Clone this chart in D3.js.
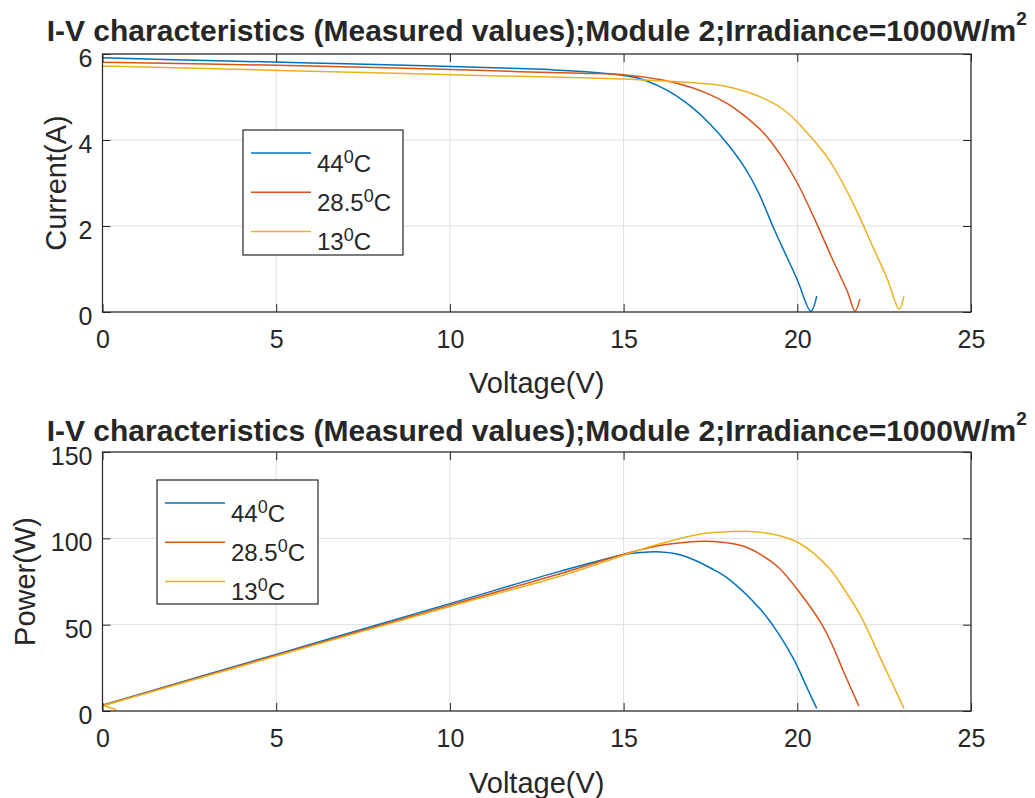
<!DOCTYPE html>
<html>
<head>
<meta charset="utf-8">
<script src="https://cdn.jsdelivr.net/npm/d3@7"></script>
<style>
  body { margin: 0; background: #fff; }
  svg { display: block; }
  text { font-family: "Liberation Sans", Arial, sans-serif; fill: #262626; }
</style>
</head>
<body>
<svg id="chart" width="1035" height="798"></svg>
<script>
// Module temperatures (°C) and MATLAB-style line colours
const temps = ["44", "28.5", "13"];
const colors = ["#0072BD", "#D95319", "#EDB120"];

// Tick values
const voltageTicks = [0, 5, 10, 15, 20, 25];
const currentTicks = [0, 2, 4, 6];
const powerTicks = [0, 50, 100, 150];

// Measured I-V curves: voltage (V) and current (A)
const ivVoltage44 = [0, 3, 6, 9, 12, 13, 14, 15, 15.5, 16, 16.5, 17, 17.5, 18, 18.5, 18.87, 19.33, 19.7, 20.0, 20.39, 20.56];
const ivCurrent44 = [5.91, 5.85, 5.79, 5.73, 5.66, 5.63, 5.58, 5.50, 5.42, 5.26, 5.04, 4.74, 4.36, 3.90, 3.34, 2.80, 1.93, 1.28, 0.75, 0.02, 0.37];

const ivVoltage285 = [0, 3, 6, 9, 12, 13.77, 15, 16.16, 17.0, 17.5, 18.0, 18.5, 19.0, 19.5, 20.0, 20.5, 21.0, 21.45, 21.66, 21.8];
const ivCurrent285 = [5.81, 5.77, 5.72, 5.66, 5.59, 5.55, 5.52, 5.39, 5.21, 5.05, 4.84, 4.55, 4.19, 3.67, 3.00, 2.16, 1.25, 0.46, 0.02, 0.30];

const ivVoltage13 = [0, 3, 6, 9, 12, 13.77, 15, 16, 17, 17.6, 18, 18.58, 19.0, 19.53, 20.0, 20.19, 20.5, 20.88, 21.26, 21.74, 22.2, 22.6, 22.93, 23.07];
const ivCurrent13 = [5.72, 5.66, 5.60, 5.54, 5.48, 5.45, 5.42, 5.38, 5.33, 5.29, 5.24, 5.11, 4.98, 4.75, 4.42, 4.25, 3.97, 3.58, 3.07, 2.30, 1.47, 0.75, 0.07, 0.37];

// Measured P-V curves: voltage (V) and power (W)
const pvVoltage44 = [0, 5, 10, 13.19, 15.03, 15.5, 16.07, 16.5, 17.02, 17.5, 18.0, 18.95, 19.44, 19.9, 20.3, 20.56];
const pvPower44 = [3.4, 32.8, 62.2, 81.0, 90.6, 91.8, 92.1, 91.1, 87.6, 82.8, 76.8, 58.6, 45.4, 29.9, 12.6, 1.5];

const pvVoltage285 = [0, 5, 10, 13.19, 15.0, 16.07, 16.8, 17.31, 17.9, 18.46, 18.95, 19.44, 20.05, 20.68, 21.0, 21.34, 21.77];
const pvPower285 = [3.2, 32.3, 61.2, 79.6, 90.8, 96.0, 97.8, 98.3, 97.6, 95.4, 90.6, 83.5, 69.1, 51.0, 38.5, 22.4, 3.0];

const pvVoltage13 = [0.4, 0.03, 5, 10, 13.19, 15.0, 16.07, 17.31, 18.0, 18.66, 19.43, 20.05, 20.88, 21.35, 21.83, 22.41, 23.07];
const pvPower13 = [0.7, 3.2, 31.8, 60.5, 78.2, 90.2, 97.0, 102.8, 103.8, 104.0, 101.8, 97.3, 83.5, 70.5, 54.8, 29.9, 1.5];

const ivSeries = [
  { v: ivVoltage44, y: ivCurrent44 },
  { v: ivVoltage285, y: ivCurrent285 },
  { v: ivVoltage13, y: ivCurrent13 }
];
const pvSeries = [
  { v: pvVoltage44, y: pvPower44 },
  { v: pvVoltage285, y: pvPower285 },
  { v: pvVoltage13, y: pvPower13 }
];

const titleText = "I-V characteristics (Measured values);Module 2;Irradiance=1000W/m";

const svg = d3.select("#chart");
const left = 102.5, right = 971;
const x = d3.scaleLinear().domain([0, 25]).range([left, right]);
const axisColor = "#262626";
const gridColor = "#dfdfdf";

// Split a trace into runs along which voltage moves in one direction,
// so each run is drawn as its own smooth piece.
function directionRuns(pts) {
  const runs = [];
  let run = [pts[0]], dir = 0;
  for (let k = 1; k < pts.length; k++) {
    const d = Math.sign(pts[k][0] - pts[k - 1][0]);
    if (dir !== 0 && d !== dir) {
      runs.push(run);
      run = [pts[k - 1]];
    }
    dir = d;
    run.push(pts[k]);
  }
  runs.push(run);
  return runs;
}

function drawPanel(cfg) {
  const y = d3.scaleLinear().domain(cfg.yDomain).range([cfg.bottom, cfg.top]);
  const g = svg.append("g");

  // grid
  g.append("g").selectAll("line").data(voltageTicks).join("line")
    .attr("x1", d => x(d)).attr("x2", d => x(d))
    .attr("y1", cfg.top).attr("y2", cfg.bottom)
    .attr("stroke", gridColor).attr("stroke-width", 1);
  g.append("g").selectAll("line").data(cfg.yTicks).join("line")
    .attr("x1", left).attr("x2", right)
    .attr("y1", d => y(d)).attr("y2", d => y(d))
    .attr("stroke", gridColor).attr("stroke-width", 1);

  // curves
  const line = d3.line()
    .x(d => x(d[0])).y(d => y(d[1]))
    .curve(d3.curveCatmullRom.alpha(0.5));
  cfg.series.forEach((s, i) => {
    const pts = s.v.map((v, k) => [v, s.y[k]]);
    const d = directionRuns(pts).map(r => line(r)).join("");
    g.append("path")
      .attr("d", d)
      .attr("fill", "none")
      .attr("stroke", colors[i])
      .attr("stroke-width", 1.5)
      .attr("stroke-linejoin", "round");
  });

  // axes: ticks point inward on all four sides
  const tl = 8;
  const fmt = d3.format("~g");
  const xb = d3.axisBottom(x).tickValues(voltageTicks).tickFormat(fmt).tickSizeInner(-tl).tickSizeOuter(0).tickPadding(23);
  const xt = d3.axisTop(x).tickValues(voltageTicks).tickSizeInner(-tl).tickSizeOuter(0).tickFormat("");
  const yl = d3.axisLeft(y).tickValues(cfg.yTicks).tickFormat(fmt).tickSizeInner(-tl).tickSizeOuter(0).tickPadding(10);
  const yr = d3.axisRight(y).tickValues(cfg.yTicks).tickSizeInner(-tl).tickSizeOuter(0).tickFormat("");

  const axes = [
    g.append("g").attr("transform", `translate(0,${cfg.bottom})`).call(xb),
    g.append("g").attr("transform", `translate(0,${cfg.top})`).call(xt),
    g.append("g").attr("transform", `translate(${left},0)`).call(yl),
    g.append("g").attr("transform", `translate(${right},0)`).call(yr)
  ];
  axes.forEach(a => {
    a.select(".domain").remove();
    a.selectAll(".tick line").attr("stroke", axisColor).attr("stroke-width", 1);
    a.selectAll(".tick text").attr("font-size", 25).attr("fill", axisColor)
      .style("font-family", '"Liberation Sans", Arial, sans-serif');
  });
  axes[0].selectAll(".tick text").attr("dy", "0.5em");
  axes[2].selectAll(".tick text").attr("dy", "0.5em");

  // box
  g.append("rect")
    .attr("x", left).attr("y", cfg.top)
    .attr("width", right - left).attr("height", cfg.bottom - cfg.top)
    .attr("fill", "none").attr("stroke", axisColor).attr("stroke-width", 1.2);

  // axis labels
  g.append("text")
    .attr("x", (left + right) / 2).attr("y", cfg.xLabelY)
    .attr("text-anchor", "middle").attr("font-size", 29)
    .text("Voltage(V)");
  g.append("text")
    .attr("transform", `translate(${cfg.yLabelX},${(cfg.top + cfg.bottom) / 2}) rotate(-90)`)
    .attr("text-anchor", "middle").attr("font-size", 29)
    .text(cfg.yLabel);

  // title with superscript
  const t = g.append("text")
    .attr("x", (left + right) / 2).attr("y", cfg.titleY)
    .attr("text-anchor", "middle").attr("font-size", 30).attr("font-weight", "bold")
    .attr("fill", "#000");
  t.append("tspan").text(titleText);
  t.append("tspan").attr("dy", -16).attr("font-size", 19).text("2");

  // legend
  const L = cfg.legend;
  const lg = g.append("g").attr("transform", `translate(${L.x},${L.y})`);
  lg.append("rect").attr("width", L.w).attr("height", L.h)
    .attr("fill", "#fff").attr("stroke", axisColor).attr("stroke-width", 1.2);
  temps.forEach((tp, i) => {
    const ly = 23 + i * 39.2;
    lg.append("line").attr("x1", 8).attr("x2", 68).attr("y1", ly).attr("y2", ly)
      .attr("stroke", colors[i]).attr("stroke-width", 1.5);
    const tx = lg.append("text").attr("x", 74).attr("y", ly + 19).attr("font-size", 24).attr("fill", "#000");
    tx.append("tspan").text(tp);
    tx.append("tspan").attr("dy", -9).attr("font-size", 18).text("0");
    tx.append("tspan").attr("dy", 9).attr("font-size", 24).text("C");
  });
}

drawPanel({
  top: 54, bottom: 312, yDomain: [0, 6], yTicks: currentTicks,
  yLabel: "Current(A)", yLabelX: 66, xLabelY: 393, titleY: 41,
  series: ivSeries,
  legend: { x: 243, y: 130, w: 160, h: 125 }
});

drawPanel({
  top: 452, bottom: 711, yDomain: [0, 150], yTicks: powerTicks,
  yLabel: "Power(W)", yLabelX: 35, xLabelY: 793, titleY: 441,
  series: pvSeries,
  legend: { x: 157, y: 480, w: 161, h: 124 }
});
</script>
</body>
</html>
